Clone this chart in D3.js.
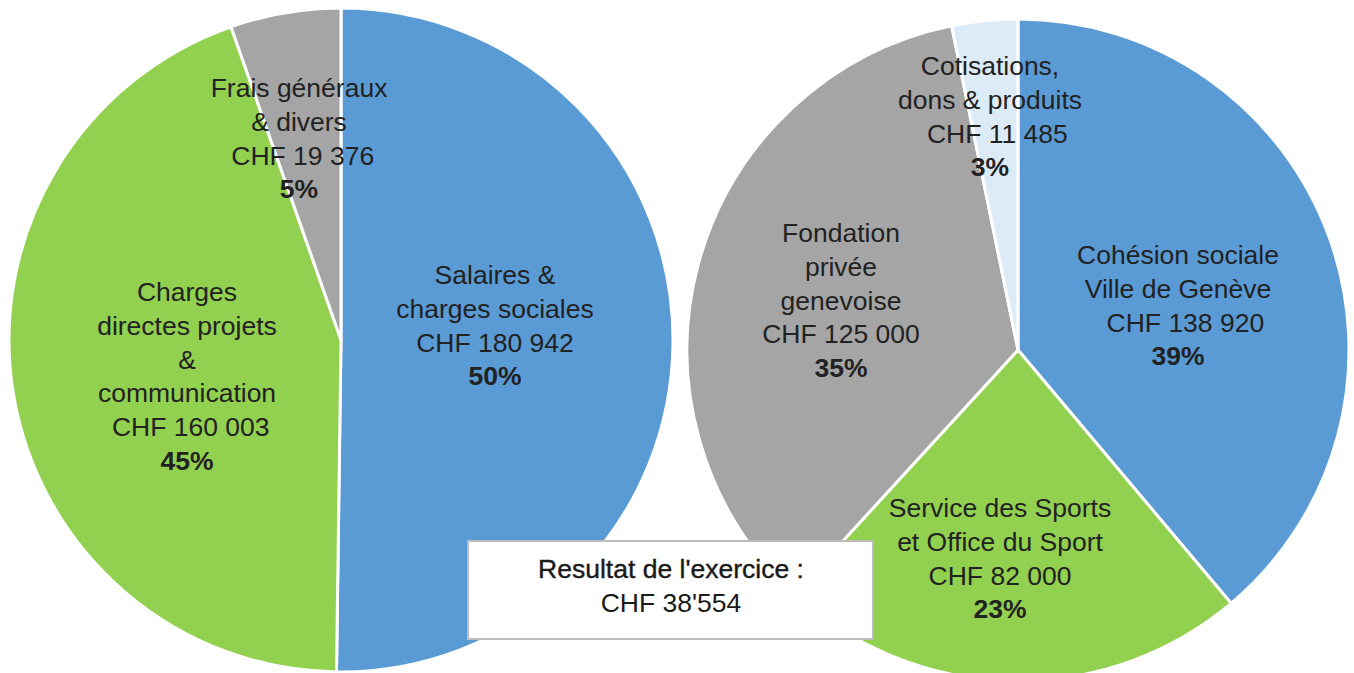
<!DOCTYPE html>
<html>
<head>
<meta charset="utf-8">
<script src="https://cdn.jsdelivr.net/npm/d3@7"></script>
<style>
  body { margin: 0; background: #fff; }
  text { font-family: "Liberation Sans", Arial, sans-serif; }
</style>
</head>
<body>
<div id="chart"></div>
<script>
const width = 1354;
const height = 673;

// charges (left pie)
const chargeNames = [
    ["Salaires &", "charges sociales"],
    ["Charges", "directes projets", "&", "communication"],
    ["Frais généraux", "& divers"]
];
const chargeValues = [180942, 160003, 19376];
const chargeAmounts = ["CHF 180 942", " CHF 160 003", " CHF 19 376"];
const chargePct = ["50%", "45%", "5%"];

// produits (right pie)
const incomeNames = [
    ["Cohésion sociale", "Ville de Genève"],
    ["Service des Sports", "et Office du Sport"],
    ["Fondation", "privée", "genevoise"],
    ["Cotisations,", "dons & produits"]
];
const incomeValues = [138920, 82000, 125000, 11485];
const incomeAmounts = ["  CHF 138 920", "CHF 82 000", "CHF 125 000", "  CHF 11 485"];
const incomePct = ["39%", "23%", "35%", "3%"];

const resultLines = ["Resultat de l'exercice :", "CHF 38'554"];

const chargeColors = ["#5b9bd5", "#92d050", "#a5a5a5"];
const incomeColors = ["#5b9bd5", "#92d050", "#a5a5a5", "#ddebf7"];

// label anchors, relative to the pie centre (first line)
const chargeLabelPos = [[154, -65], [-154, -48], [-42, -252]];
const incomeLabelPos = [[160, -95], [-18, 158], [-177, -117], [-28, -284]];

const lineH = 33.7;

let svg = d3.select("#chart")
    .append("svg")
        .attr("width", width)
        .attr("height", height);

const drawPie = (cx, cy, r, values, colors, names, amounts, pct, labelPos) => {
    const pie = d3.pie().sort(null).value(d => d);
    const arc = d3.arc().innerRadius(0).outerRadius(r);
    const g = svg.append("g").attr("transform", `translate(${cx},${cy})`);

    g.selectAll("path")
        .data(pie(values))
        .join("path")
            .attr("d", arc)
            .attr("fill", (_, i) => colors[i])
            .attr("stroke", "white")
            .attr("stroke-width", 3)
            .attr("stroke-linejoin", "round");

    names.forEach((lines, i) => {
        const all = lines.concat([amounts[i], pct[i]]);
        const t = g.append("text")
            .attr("text-anchor", "middle")
            .attr("font-size", 26.5)
            .attr("fill", "#222");
        all.forEach((s, j) => {
            t.append("tspan")
                .attr("x", labelPos[i][0])
                .attr("y", labelPos[i][1] + j * lineH)
                .attr("dy", "0.35em")
                .attr("font-weight", j == all.length - 1 ? "bold" : null)
                .style("white-space", "pre")
                .text(s);
        });
    });
};

drawPie(341, 340, 332, chargeValues, chargeColors, chargeNames, chargeAmounts, chargePct, chargeLabelPos);
drawPie(1018, 350, 331, incomeValues, incomeColors, incomeNames, incomeAmounts, incomePct, incomeLabelPos);

// result box
const box = svg.append("g").attr("transform", "translate(468,541)");
box.append("rect")
    .attr("width", 405)
    .attr("height", 98)
    .attr("fill", "white")
    .attr("stroke", "#bdbdbd")
    .attr("stroke-width", 2);
box.selectAll("text")
    .data(resultLines)
    .join("text")
        .attr("x", 203)
        .attr("y", (_, i) => 28 + i * 34)
        .attr("dy", "0.35em")
        .attr("text-anchor", "middle")
        .attr("font-size", 26.5)
        .attr("fill", "#1a1a1a")
        .attr("stroke", (_, i) => i == 0 ? "#1a1a1a" : null)
        .attr("stroke-width", 0.4)
        .text(d => d);
</script>
</body>
</html>
